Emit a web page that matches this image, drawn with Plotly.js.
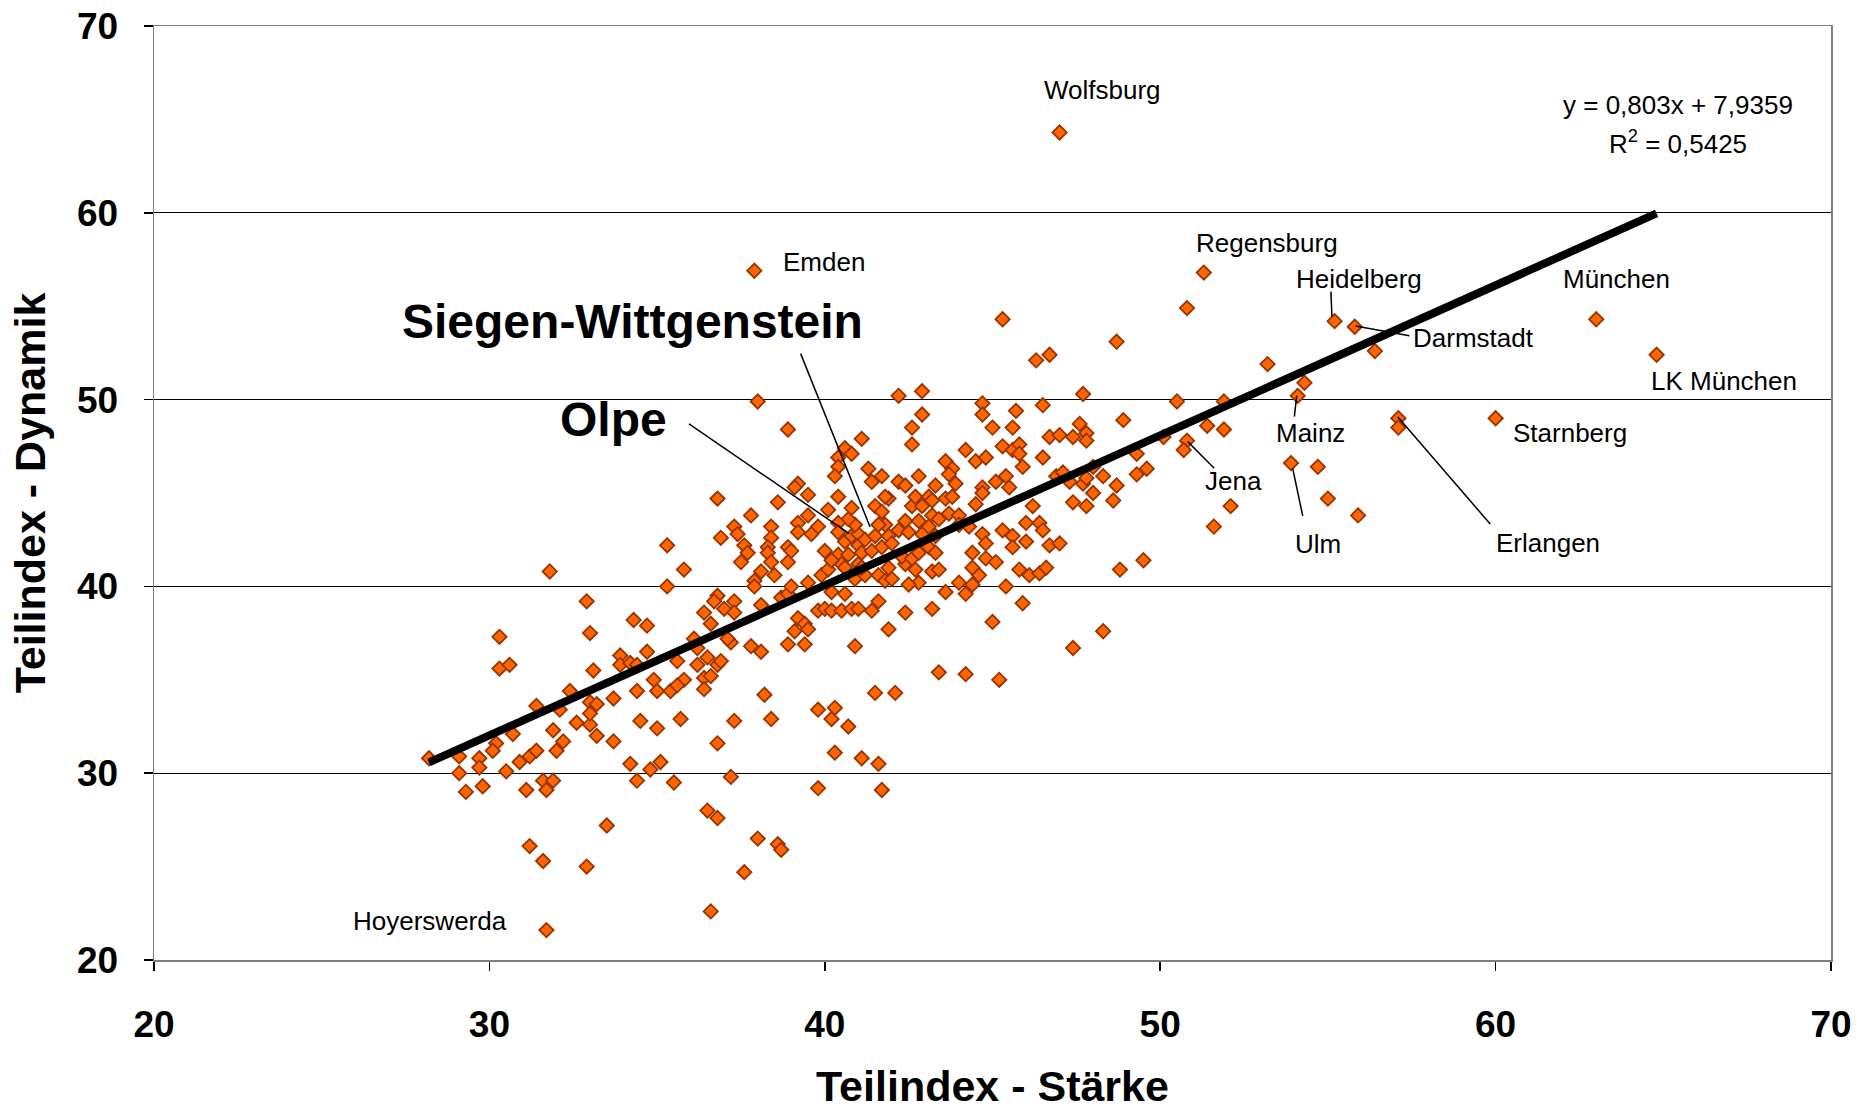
<!DOCTYPE html>
<html>
<head>
<meta charset="utf-8">
<script src="https://cdn.plot.ly/plotly-3.0.1.min.js"></script>
<style>html,body{margin:0;padding:0;background:#fff}#chart{width:1868px;height:1110px}</style>
</head>
<body>
<div id="chart"></div>
<script>
// Teilindex - Stärke (x) and Teilindex - Dynamik (y), grouped by region of the plot
const staerkeA = [28.2,29.1,29.7,29.7,29.1,29.3,29.8,30.2,30.1,30.7,30.5,30.9,31.2,31.4,31.1,31.6,31.9,31.7,31.9,32.2,32.0,32.6,33.0,33.2,33.7,34.5,35.0,34.2,34.4,34.8,35.1,35.5,33.5,31.2,31.6,32.9,31.7];
const dynamikA = [30.8,30.9,30.8,30.3,30.0,29.0,29.3,31.6,31.2,32.1,30.1,30.6,30.9,31.2,29.1,29.6,29.6,29.1,32.3,31.7,31.2,32.7,32.6,32.0,31.7,32.8,32.4,30.5,29.6,30.2,30.6,29.5,27.2,26.1,25.3,25.0,21.6];

const staerkeB = [35.3,31.8,35.3,32.9,34.3,34.7,33.0,30.3,30.3,30.6,33.9,34.7,33.9,34.2,34.4,33.1,34.9,35.0,34.4,35.4,32.4,31.4,32.1,33.0,33.2,33.0,33.7];
const dynamikB = [42.2,40.8,40.0,39.2,38.2,37.9,37.5,37.3,35.6,35.8,36.3,36.5,35.8,35.9,35.8,35.5,35.0,34.4,34.4,34.4,34.4,33.6,33.4,33.8,33.7,33.2,34.0];

const staerkeC = [35.7,37.3,38.4,40.2,40.7,36.8,40.3,41.1,41.6,37.2,39.8,41.7,36.5,36.8,38.0,38.6,38.7,37.6,36.6];
const dynamikC = [32.9,32.8,32.9,32.9,32.5,31.6,31.1,30.8,30.5,29.8,29.2,29.1,28.0,27.6,26.5,26.2,25.9,24.7,22.6];

const staerkeD = [36.8,38.6,39.5,40.4,37.8,38.4,37.3,37.4,36.9,39.2,
  39.5,39.6,39.2,39.8,40.1,38.4,38.3,37.6,37.7,37.5,
  38.3,38.9,39.0,38.9,38.4,38.5,38.1,37.9,37.9,35.8,
  36.8,36.7,37.3,37.0,37.3,36.4,36.6,38.1,38.7,38.9,
  39.0,39.5,39.9,40.0,40.1,40.4,40.5,40.6,40.2,39.2,
  39.4,39.5,39.1,39.8,40.0,40.2,40.5,40.8,41.0,40.2,
  40.6,41.4,41.6,40.9,41.2,41.6,41.8,42.0,42.4,41.9,
  40.9,38.9,39.4,37.8,38.1,37.2,37.1,36.1,36.2,35.6,
  36.2,36.5,36.8,36.9,35.8,35.6,36.4,36.6,36.4,38.2,
  41.5,42.1,39.8,40.3];
const dynamikD = [44.7,44.5,44.9,44.8,43.8,43.2,43.2,42.8,42.6,43.4,
  43.8,42.8,42.9,43.2,44.1,42.6,42.1,42.2,41.8,41.3,
  41.8,42.1,41.9,41.3,41.3,40.6,40.8,40.3,40.0,40.9,
  39.5,39.2,39.2,38.8,38.6,38.6,38.0,39.0,39.4,39.6,
  40.0,40.2,40.6,41.9,40.9,41.7,41.2,41.0,41.4,38.3,
  38.0,37.7,37.6,38.7,38.8,38.7,38.7,38.8,38.8,39.7,
  39.6,38.7,39.2,40.4,40.6,40.6,40.3,40.4,38.6,37.7,
  36.8,36.9,36.9,36.8,36.5,37.0,37.2,37.2,36.7,36.0,
  35.8,36.2,35.8,36.0,35.0,34.7,35.1,35.2,34.5,34.2,
  34.3,34.3,33.4,33.5];

const staerkeE = [40.6,40.8,41.0,41.0,41.2,41.1,41.4,41.5,41.7,41.9,42.0,41.8,42.2,42.5,42.6,42.4,42.8,42.9,42.7,41.9,41.8,41.5,41.7,41.6,40.9,40.7,40.8,40.4,40.4,40.7,41.0,41.1,41.9,42.4,42.7,42.8,42.5,42.3,42.6,42.8,42.9];
const dynamikE = [42.4,42.7,42.8,42.2,42.5,41.8,41.9,42.7,42.1,42.7,42.3,43.3,43.0,42.9,44.3,43.5,43.5,44.3,44.8,44.7,44.8,44.3,44.0,43.3,43.3,43.6,44.2,43.4,42.9,41.7,41.2,41.0,41.0,41.2,40.9,40.2,40.1,41.6,41.5,41.8,42.8];

const staerkeF = [37.9,38.0,38.9,42.2,42.9,42.9,42.6,42.6,41.1,40.4,40.6,40.8,40.4,40.3,41.3,41.7,41.4,42.8,42.2,42.4,39.2,39.1];
const dynamikF = [56.9,49.9,48.4,50.2,50.45,49.2,48.5,47.6,47.9,46.9,47.4,47.1,46.4,45.9,46.3,45.9,45.6,45.9,45.6,45.4,45.5,45.3];

const staerkeG = [45.3,48.7,46.3,46.7,47.7,44.7,44.7,45.7,46.5,48.9,
  50.5,45.0,45.6,44.2,43.6,43.8,44.5,44.8,45.3,45.6,
  45.8,45.8,45.9,46.5,46.7,47.0,47.4,47.6,47.8,47.8,
  46.9,47.1,47.3,47.7,47.8,48.0,48.3,48.7,49.3,49.6,
  49.3,50.1,43.3,43.9,43.7,44.7,45.1,45.4,45.5];
const dynamikG = [54.3,53.1,52.1,52.4,50.3,49.8,49.2,49.4,49.7,48.9,
  49.9,48.5,48.5,47.3,46.7,46.3,46.7,46.9,47.5,47.3,
  47.6,47.1,46.4,46.9,48.0,48.1,48.0,48.7,48.2,47.8,
  45.9,46.1,45.6,45.5,45.8,46.4,45.9,45.4,46.0,46.3,
  47.1,48.0,45.4,45.5,46.0,45.3,45.6,45.9,45.3];

const staerkeH = [51.3,50.8,55.2,55.8,56.4,53.2,54.3,54.1,51.9,51.4,51.9,50.8,50.7,57.1,57.1,53.9,54.7];
const dynamikH = [56.8,54.9,54.2,53.9,52.6,51.9,50.9,50.2,49.9,48.6,48.4,47.8,47.3,49.0,48.5,46.6,46.4];

const staerkeI = [47.4,47.8,48.6,48.0,46.2,46.0,46.4,46.5,44.5,44.7,
  45.3,45.6,46.0,45.6,46.7,47.0,44.7,44.8,44.4,44.8,
  45.1,44.4,44.6,44.0,44.4,44.2,43.6,43.2,45.8,46.1,
  46.4,46.6,45.4,45.9,45.0,48.8,49.5,48.3,47.4,43.4,
  44.2,45.2,
  43.1,43.2,43.6,43.8,43.2,43.4,43.7,44.0,44.0,44.3,
  43.1,43.3,43.1,43.3,43.2,43.4];
const dynamikI = [44.5,44.3,44.6,45.0,44.3,43.4,43.4,43.0,44.4,45.0,
  43.0,42.7,42.4,42.1,42.2,42.3,42.8,42.3,41.8,41.5,
  41.3,41.0,40.6,40.2,40.1,39.6,39.7,38.8,40.9,40.6,
  40.7,41.0,40.0,39.1,38.1,40.9,41.4,37.6,36.7,35.4,
  35.3,35.0,
  44.8,44.6,44.7,44.8,43.8,43.6,43.9,43.8,43.3,43.2,
  43.2,42.7,42.1,41.8,40.8,40.9];

const staerkeJ = [52.1,51.6,55.0,55.9, 47.0,63.0,64.8,60.0];
const dynamikJ = [44.3,43.2,44.7,43.8, 64.3,54.3,52.4,49.0];

// Linear trend given in the chart
const trendSlope = 0.803;
const trendIntercept = 7.9359;
const trendText = ["y = 0,803x + 7,9359", "R<sup>2</sup> = 0,5425"];

// Labelled districts: name, label position, leader line (from, to)
const labelNames = ["Wolfsburg","Emden","Regensburg","Heidelberg","München","Darmstadt","LK München","Mainz","Starnberg","Jena","Ulm","Erlangen","Hoyerswerda"];
const labelX = [48.27,39.99,53.17,55.94,63.6,59.35,66.8,54.48,62.22,52.2,54.7,61.55,28.24];
const labelY = [66.56,57.37,58.4,56.48,56.48,53.29,51.0,48.19,48.19,45.64,42.26,42.32,22.1];
const bigNames = ["Siegen-Wittgenstein","Olpe"];
const bigX = [34.28,33.7];
const bigY = [54.18,48.95];
const leaderFrom = [[39.28,52.46],[35.95,48.7],[55.09,55.78],[57.43,53.42],[54.0,49.09],[51.61,46.32],[54.25,43.77],[59.84,43.34]];
const leaderTo   = [[41.35,43.18],[40.73,42.82],[55.12,54.44],[55.82,53.94],[54.07,50.21],[50.82,47.75],[53.95,46.32],[57.08,49.08]];

const xs = [].concat(staerkeA,staerkeB,staerkeC,staerkeD,staerkeE,staerkeF,staerkeG,staerkeH,staerkeI,staerkeJ);
const ys = [].concat(dynamikA,dynamikB,dynamikC,dynamikD,dynamikE,dynamikF,dynamikG,dynamikH,dynamikI,dynamikJ);

const xmin = Math.min.apply(null, xs), xmax = Math.max.apply(null, xs);
const FONT = "Arial, 'Liberation Sans', sans-serif";

const traces = [
  {
    x: xs, y: ys, type: 'scatter', mode: 'markers',
    marker: {symbol: 'diamond', size: 11, color: '#FF6600', line: {color: '#993300', width: 1.8}},
    hoverinfo: 'x+y'
  },
  {
    x: [xmin, xmax], y: [trendSlope*xmin + trendIntercept, trendSlope*xmax + trendIntercept],
    type: 'scatter', mode: 'lines', line: {color: '#000', width: 8}, hoverinfo: 'skip'
  }
];

const annotations = [];
labelNames.forEach((n,i) => annotations.push({
  x: labelX[i], y: labelY[i], xref: 'x', yref: 'y', text: n, showarrow: false,
  font: {family: FONT, size: 26, color: '#000'}
}));
bigNames.forEach((n,i) => annotations.push({
  x: bigX[i], y: bigY[i], xref: 'x', yref: 'y', text: n, showarrow: false,
  font: {family: FONT, size: 48, color: '#000', weight: 'bold'}
}));
trendText.forEach((t,i) => annotations.push({
  x: 65.45, y: [65.79, 63.75][i], xref: 'x', yref: 'y', text: t, showarrow: false,
  font: {family: FONT, size: 26, color: '#000'}
}));

const shapes = leaderFrom.map((p,i) => ({
  type: 'line', xref: 'x', yref: 'y', x0: p[0], y0: p[1], x1: leaderTo[i][0], y1: leaderTo[i][1],
  line: {color: '#000', width: 1.5}
}));

const layout = {
  width: 1868, height: 1110,
  margin: {l: 154, r: 37, t: 26, b: 150},
  paper_bgcolor: '#fff', plot_bgcolor: '#fff',
  showlegend: false,
  font: {family: FONT, color: '#000'},
  xaxis: {
    range: [20, 70], tick0: 20, dtick: 10, showgrid: false, zeroline: false,
    showline: true, linecolor: '#808080', linewidth: 1.5, mirror: true,
    ticks: 'outside', ticklen: 9, tickcolor: '#000', tickwidth: 1.5,
    ticklabelstandoff: 22,
    tickfont: {family: FONT, size: 37, weight: 'bold', color: '#000'},
    title: {text: 'Teilindex - Stärke', standoff: 27, font: {family: FONT, size: 43, weight: 'bold', color: '#000'}},
    automargin: false
  },
  yaxis: {
    range: [20, 70], tick0: 20, dtick: 10, showgrid: true, gridcolor: '#000', gridwidth: 1, zeroline: false,
    showline: true, linecolor: '#808080', linewidth: 1.5, mirror: true,
    ticks: 'outside', ticklen: 9, tickcolor: '#000', tickwidth: 1.5,
    ticklabelstandoff: 18,
    tickfont: {family: FONT, size: 37, weight: 'bold', color: '#000'},
    title: {text: 'Teilindex - Dynamik', standoff: 18, font: {family: FONT, size: 43, weight: 'bold', color: '#000'}},
    automargin: false
  },
  annotations: annotations,
  shapes: shapes
};

Plotly.newPlot('chart', traces, layout, {displayModeBar: false, staticPlot: true});
</script>
</body>
</html>
